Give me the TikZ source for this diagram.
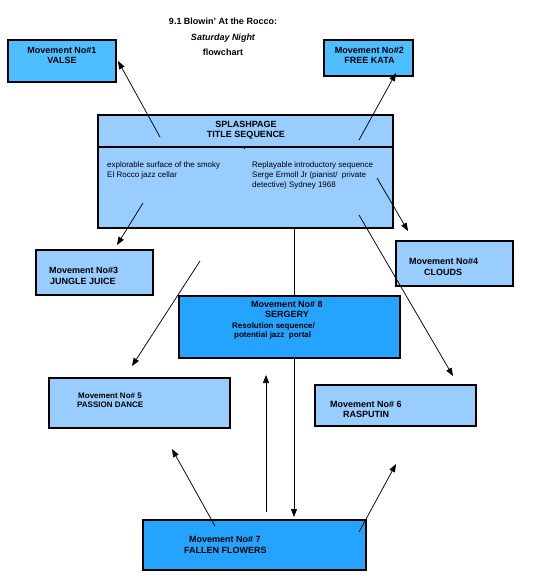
\documentclass[tikz,border=0pt]{standalone}
\usepackage{fontspec}
\setmainfont{Liberation Sans}
\usetikzlibrary{arrows.meta}
\definecolor{bright}{RGB}{77,190,255}
\definecolor{deep}{RGB}{37,164,255}
\definecolor{pale}{RGB}{153,204,255}
\tikzset{
  box/.style={draw=black, line width=1.1pt, rectangle, inner sep=0pt},
  lbl/.style={font=\fontsize{9}{10}\selectfont\bfseries, inner sep=0pt, align=center, anchor=north},
  lblw/.style={font=\fontsize{9}{11}\selectfont\bfseries, inner sep=0pt, align=left, anchor=north west},
  lbls/.style={font=\fontsize{8}{9.5}\selectfont\bfseries, inner sep=0pt, align=left, anchor=north west},
  body/.style={font=\fontsize{8}{10}\selectfont, inner sep=0pt, align=left, anchor=north west},
  arr/.style={line width=0.75pt, -{Triangle[length=8pt,width=6pt]}},
}
\begin{document}
\begin{tikzpicture}[x=1pt,y=-1pt]
\useasboundingbox (0,0) rectangle (534,587);

% free ends of connectors
\coordinate (a1s) at (160,137);  \coordinate (a1e) at (118,61);
\coordinate (a2s) at (359,140);  \coordinate (a2e) at (396,73);
\coordinate (a3s) at (143,203);  \coordinate (a3e) at (117,245);
\coordinate (a4s) at (377,178);  \coordinate (a4e) at (408,231);
\coordinate (a5s) at (200,261);  \coordinate (a5e) at (132,366);
\coordinate (a6s) at (359,215);  \coordinate (a6e) at (453,376);
\coordinate (vds) at (294,228);  \coordinate (vde) at (294,517);
\coordinate (vus) at (266,512);  \coordinate (vue) at (266,375);
\coordinate (a7s) at (215,526);  \coordinate (a7e) at (172,449);
\coordinate (a8s) at (359,532);  \coordinate (a8e) at (396,464);

% title
\node[lbl] (title) at (223,17.8) {9.1 Blowin' At the Rocco:\\[5.5pt]\itshape Saturday Night\\[5pt]flowchart};

% boxes
\node[box, fill=bright, minimum width=108pt, minimum height=42pt] (m1) at (62,61) {};
\node[box, fill=bright, minimum width=89pt, minimum height=36pt] (m2) at (368.5,58) {};
\node[box, fill=pale, minimum width=295pt, minimum height=113pt] (sp) at (245.5,171.5) {};
\node[box, fill=pale, minimum width=117pt, minimum height=45pt] (m3) at (94.5,272.5) {};
\node[box, fill=pale, minimum width=117pt, minimum height=45pt] (m4) at (454.5,263.5) {};

% long vertical connector runs behind box 8
\draw[arr] (vds) -- (vde);

\node[box, fill=deep, minimum width=221pt, minimum height=62pt] (m8) at (289.5,327) {};
\node[box, fill=pale, minimum width=181pt, minimum height=50pt] (m5) at (139.5,403) {};
\node[box, fill=pale, minimum width=161pt, minimum height=41pt] (m6) at (395.5,405.5) {};
\node[box, fill=deep, minimum width=223pt, minimum height=50pt] (m7) at (254.5,545) {};

% splash divider and heavier lower right edge
\draw[line width=1.1pt] (sp.west |- 0,147) -- (sp.east |- 0,147);
\draw[line width=1.9pt] (392.5,147) -- (392.5,228);
\draw[line width=0.6pt] (244,147) -- (244,149);

% labels
\node[lbl] (t1) at (62,46.8) {Movement No\#1\\VALSE};
\node[lbl] (t2) at (369.5,46.8) {Movement No\#2\\FREE KATA};
\node[lbl] (tsp) at (246,120.8) {SPLASHPAGE\\TITLE SEQUENCE};
\node[body] (tl) at (107,161.1) {explorable surface of the smoky\\El Rocco jazz cellar};
\node[body] (tr) at (252,161.1) {Replayable introductory sequence\\Serge Ermoll Jr (pianist/\ \ private\\detective) Sydney 1968};
\node[lblw] (t3) at (49,266.8) {Movement No\#3\\\hspace*{1pt}JUNGLE JUICE};
\node[lblw] (t4) at (409,257.8) {Movement No\#4\\\hspace*{15pt}CLOUDS};
\node[lbl] (t8) at (287,300.8) {Movement No\# 8\\SERGERY};
\node[lbls] (t8b) at (232,322.1) {Resolution sequence/\\\hspace*{2pt}potential jazz\ \ portal};
\node[lbls] (t5) at (78,393.1) {Movement No\# 5\\[-0.5pt]\hspace*{-1pt}PASSION DANCE};
\node[lblw] (t6) at (330,400.8) {Movement No\# 6\\[-1pt]\hspace*{13pt}RASPUTIN};
\node[lblw] (t7) at (189,535.8) {Movement No\# 7\\\hspace*{-5pt}FALLEN FLOWERS};

\draw[arr] (a1s) -- (a1e);
\draw[arr] (a2s) -- (a2e);
\draw[arr] (a3s) -- (a3e);
\draw[arr] (a4s) -- (a4e);
\draw[arr] (a5s) -- (a5e);
\draw[arr] (a6s) -- (a6e);
\draw[arr] (vus) -- (vue);
\draw[arr] (a7s) -- (a7e);
\draw[arr] (a8s) -- (a8e);
\end{tikzpicture}
\end{document}
